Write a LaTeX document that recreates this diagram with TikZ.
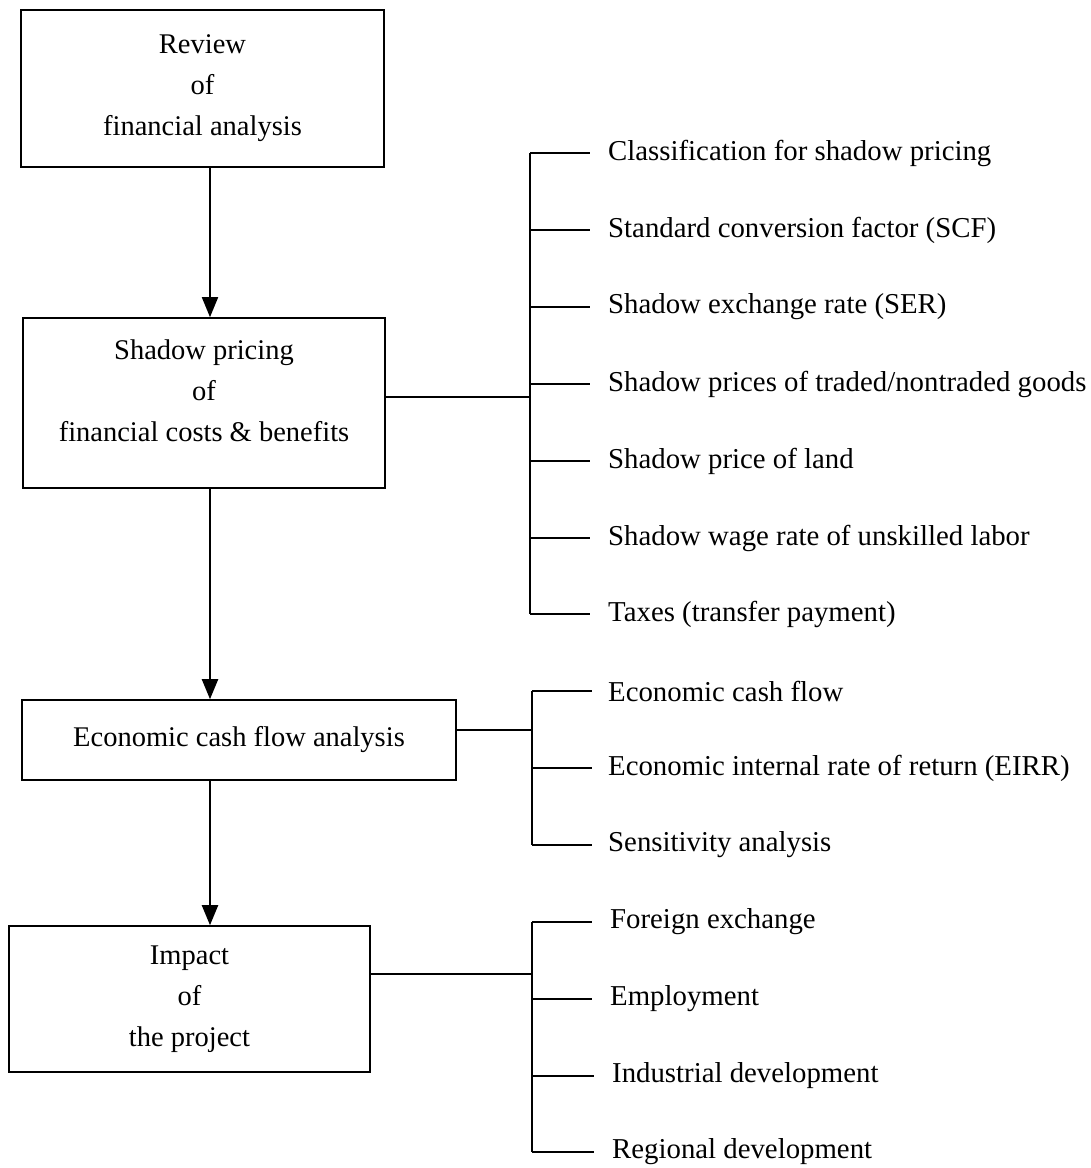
\documentclass[tikz,border=0pt]{standalone}
\usepackage{fontspec}
\setmainfont{Liberation Serif}
\usetikzlibrary{arrows.meta}
\begin{document}
\begin{tikzpicture}[x=1pt,y=-1pt,
  box/.style={draw,line width=1.6pt,inner sep=0pt,align=center,
    font=\fontsize{28.5}{41}\selectfont},
  item/.style={anchor=west,inner sep=0pt,font=\fontsize{28.8}{34}\selectfont},
  arr/.style={line width=2.2pt,-{Triangle[length=20pt,width=16pt]}},
  conn/.style={line width=1.1pt},
  brk/.style={line width=2pt},
  tick/.style={line width=1.1pt}]
\useasboundingbox (0,0) rectangle (1091,1168);

% boxes
\node[box,minimum width=363pt,minimum height=157pt] (b1) at (202.5,88.5)
  {Review\\of\\financial analysis};
\node[box,minimum width=362pt,minimum height=170pt,
  label={[align=center,font=\fontsize{28.5}{41}\selectfont,yshift=12pt]center:Shadow pricing\\of\\financial costs \& benefits}]
  (b2) at (204,403) {};
\node[box,minimum width=434pt,minimum height=80pt] (b3) at (239,740)
  {Economic cash flow analysis};
\node[box,minimum width=361pt,minimum height=146pt] (b4) at (189.5,999)
  {Impact\\of\\the project};

% arrows
\coordinate (ax) at (210,0);
\draw[arr,line width=1.8pt] (b1.south -| ax) -- (b2.north -| ax);
\draw[arr] (b2.south -| ax) -- (b3.north -| ax);
\draw[arr] (b3.south -| ax) -- (b4.north -| ax);

% items
\node[item] (i1) at (608,153) {Classification for shadow pricing};
\node[item] (i2) at (608,230) {Standard conversion factor (SCF)};
\node[item] (i3) at (608,307) {Shadow exchange rate (SER)};
\node[item] (i4) at (608,384) {Shadow prices of traded/nontraded goods};
\node[item] (i5) at (608,461) {Shadow price of land};
\node[item] (i6) at (608,538) {Shadow wage rate of unskilled labor};
\node[item] (i7) at (608,614) {Taxes (transfer payment)};
\node[item] (j1) at (608,691) {Economic cash flow};
\node[item] (j2) at (608,768) {Economic internal rate of return (EIRR)};
\node[item] (j3) at (608,845) {Sensitivity analysis};
\node[item] (k1) at (610,922) {Foreign exchange};
\node[item] (k2) at (610,999) {Employment};
\node[item] (k3) at (612,1076) {Industrial development};
\node[item] (k4) at (612,1152) {Regional development};

% bracket spines
\coordinate (s1) at (530,0);
\coordinate (s2) at (532,0);
\coordinate (s3) at (532,0);
\draw[brk] (i1.west -| s1) -- (i7.west -| s1);
\draw[brk] (j1.west -| s2) -- (j3.west -| s2);
\draw[brk] (k1.west -| s3) -- (k4.west -| s3);

% ticks
\foreach \n in {i1,i2,i3,i4,i5,i6,i7}
  \draw[tick] (\n.west -| s1) -- ([xshift=-18pt]\n.west);
\foreach \n in {j1,j2,j3}
  \draw[tick] (\n.west -| s2) -- ([xshift=-16pt]\n.west);
\foreach \n in {k1,k2,k3,k4}
  \draw[tick] (\n.west -| s3) -- ([xshift=-18pt]\n.west);

% connectors from boxes
\coordinate (c2) at (0,397);
\coordinate (c3) at (0,730);
\coordinate (c4) at (0,974);
\draw[conn] (b2.east |- c2) -- (s1 |- c2);
\draw[conn] (b3.east |- c3) -- (s2 |- c3);
\draw[conn] (b4.east |- c4) -- (s3 |- c4);
\end{tikzpicture}
\end{document}
